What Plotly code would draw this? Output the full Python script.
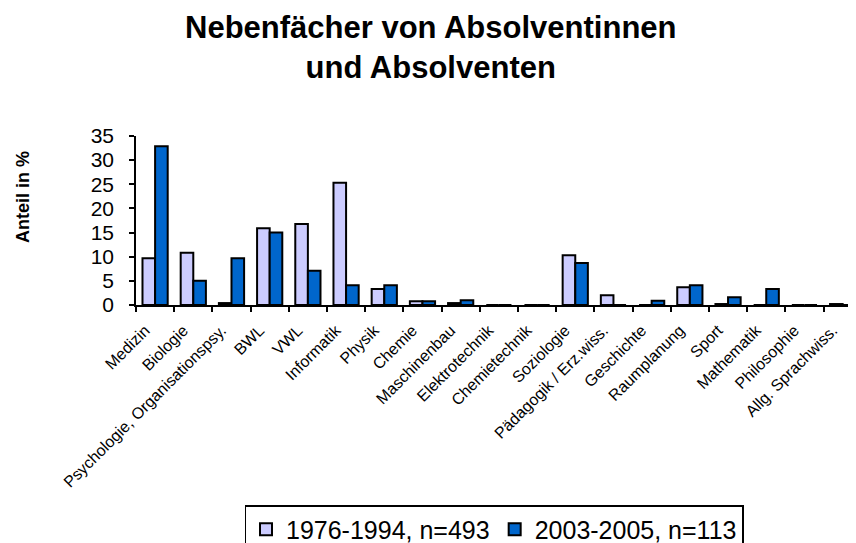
import plotly.graph_objects as go

categories = ["Medizin", "Biologie", "Psychologie, Organisationspsy.", "BWL", "VWL",
              "Informatik", "Physik", "Chemie", "Maschinenbau", "Elektrotechnik",
              "Chemietechnik", "Soziologie", "Pädagogik / Erz.wiss.", "Geschichte",
              "Raumplanung", "Sport", "Mathematik", "Philosophie", "Allg. Sprachwiss."]
series1_name = "1976-1994, n=493"
series2_name = "2003-2005, n=113"
series1 = [9.7, 10.8, 0.4, 15.9, 16.8, 25.3, 3.3, 0.8, 0.4, 0, 0, 10.3, 2.0, 0, 3.7, 0.2, 0, 0, 0.2]
series2 = [32.9, 5.0, 9.7, 15.0, 7.1, 4.1, 4.1, 0.8, 1.0, 0, 0, 8.7, 0, 0.9, 4.1, 1.6, 3.3, 0, 0]
y_ticks = [0, 5, 10, 15, 20, 25, 30, 35]
title_text = "<b>Nebenfächer von Absolventinnen<br>und Absolventen</b>"
y_title = "<b>Anteil in %</b>"

FONT = "Liberation Sans, Arial, sans-serif"

# The page body has an 8px margin, so figure coords = screen coords - 8.
W, H = 848, 535
PL, PR, PT, PB = 128, 848, 128, 297
PW, PH = PR - PL, PB - PT

fig = go.Figure()
fig.add_trace(go.Bar(x=categories, y=series1, name=series1_name,
                     marker=dict(color="#CCCCFF", line=dict(color="black", width=2))))
fig.add_trace(go.Bar(x=categories, y=series2, name=series2_name,
                     marker=dict(color="#0066CC", line=dict(color="black", width=2))))

fig.update_layout(
    width=W, height=H,
    margin=dict(l=PL, r=W - PR, t=PT, b=H - PB, autoexpand=False),
    paper_bgcolor="white", plot_bgcolor="white",
    font=dict(family=FONT, color="black"),
    barmode="group", bargap=0.34, bargroupgap=0,
    showlegend=True,
    legend=dict(orientation="h", x=(486 - PL) / PW, xanchor="center",
                y=(PB - 497) / PH, yanchor="top",
                bordercolor="black", borderwidth=1.5, bgcolor="white",
                font=dict(size=25, family=FONT), itemwidth=30,
                traceorder="normal"),
    annotations=[
        dict(text=title_text, xref="paper", yref="paper",
             x=(423 - PL) / PW, y=(PB - 39) / PH, xanchor="center", yanchor="middle",
             showarrow=False, align="center",
             font=dict(size=31, family=FONT, color="black")),
        dict(text=y_title, xref="paper", yref="paper", textangle=-90,
             x=(15 - PL) / PW, y=(PB - 189) / PH, xanchor="center", yanchor="middle",
             showarrow=False, font=dict(size=18, family=FONT, color="black")),
    ],
)
fig.update_xaxes(type="category", range=[-0.5, 18.35], automargin=False,
                 showline=True, linecolor="black", linewidth=1.5,
                 ticks="outside", tickson="boundaries", ticklen=5, tickcolor="black", tickwidth=1.5,
                 tickangle=-45, tickfont=dict(size=16, family=FONT), showgrid=False,
                 ticklabelstandoff=8, ticklabelshift=-10)
fig.update_yaxes(range=[0, 35], tickvals=y_ticks, automargin=False,
                 showline=True, linecolor="black", linewidth=1.5,
                 ticks="outside", ticklen=5, tickcolor="black", tickwidth=1.5,
                 tickfont=dict(size=21, family=FONT), showgrid=False, zeroline=False,
                 ticklabelstandoff=11)

fig.write_html("out.html")
